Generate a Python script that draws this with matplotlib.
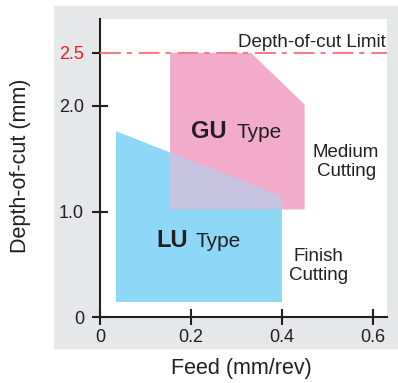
import numpy as np
import matplotlib
matplotlib.use("Agg")
import matplotlib.pyplot as plt
from matplotlib.patches import Polygon, Rectangle

plt.rcParams['font.family'] = ['Liberation Sans', 'DejaVu Sans']
plt.rcParams['lines.scale_dashes'] = False

# chart data
lu_feed = [0.035, 0.035, 0.40, 0.40]
lu_doc = [0.145, 1.76, 1.14, 0.145]
gu_feed = [0.154, 0.154, 0.332, 0.45, 0.45]
gu_doc = [1.02, 2.5, 2.5, 2.01, 1.02]
doc_limit = 2.5
xticks = [0, 0.2, 0.4, 0.6]
xticklabels = ["0", "0.2", "0.4", "0.6"]
yticks = [0, 1.0, 2.0, 2.5]
yticklabels = ["0", "1.0", "2.0", "2.5"]

dark = '#231f20'
red = '#ed1c24'
blue = '#8ed8f7'
pink = '#f3abcb'
mix = '#c6c3e1'

W, H = 398, 383
fig = plt.figure(figsize=(W / 100, H / 100), dpi=100)
# grey panel behind the plot
fig.patches.append(Rectangle((54 / W, (H - 348) / H), (W - 54) / W, (348 - 6) / H,
                             transform=fig.transFigure, color='#e6e7e8', zorder=-1))
ax = fig.add_axes([100 / W, (H - 317.3) / H, 287 / W, 298.3 / H])
ax.set_facecolor('white')
ax.set_xlim(0, 0.631)
ax.set_ylim(0, 2.82)

ax.add_patch(Polygon(np.column_stack([gu_feed, gu_doc]), closed=True, color=pink, lw=0, zorder=1))
ax.add_patch(Polygon(np.column_stack([lu_feed, lu_doc]), closed=True, color=blue, lw=0, zorder=1))
# overlap of the two regions
x0, x1 = gu_feed[0], lu_feed[2]
top0 = np.interp(x0, lu_feed[1:3], lu_doc[1:3])
ov = [(x0, gu_doc[0]), (x0, top0), (x1, lu_doc[2]), (x1, gu_doc[-1])]
ax.add_patch(Polygon(ov, closed=True, color=mix, lw=0, zorder=2))

ax.axhline(doc_limit, color='#f47c85', lw=1.5, dashes=(15, 4.3, 3.6, 5), zorder=3)

ax.text(0.629, 2.555, "Depth-of-cut Limit", ha='right', va='baseline', fontsize=13.5, color=dark)
ax.text(0.2, 1.695, "GU", fontsize=17, fontweight='bold', color=dark, va='baseline')
ax.text(0.301, 1.695, "Type", fontsize=15, color=dark, va='baseline')
ax.text(0.123, 0.664, "LU", fontsize=17, fontweight='bold', color=dark, va='baseline')
ax.text(0.209, 0.664, "Type", fontsize=15, color=dark, va='baseline')
ax.text(0.541, 1.47, "Medium\nCutting", ha='center', va='center', fontsize=13.5, color=dark)
ax.text(0.481, 0.485, "Finish\nCutting", ha='center', va='center', fontsize=13.5, color=dark)

for s in ['top', 'right']:
    ax.spines[s].set_visible(False)
for s in ['left', 'bottom']:
    ax.spines[s].set_linewidth(1.5)
    ax.spines[s].set_color(dark)

ax.set_xticks(xticks)
ax.set_xticklabels(xticklabels)
ax.set_yticks(yticks)
ax.set_yticklabels(yticklabels)
ax.tick_params(direction='inout', length=11, width=1.5, color=dark, labelcolor=dark, labelsize=13)
ax.tick_params(axis='x', pad=2.8)
ax.tick_params(axis='y', pad=6)
ax.get_yticklabels()[3].set_color(red)
ax.yaxis.get_major_ticks()[3].tick1line.set_color(red)

ax.set_xlabel("Feed (mm/rev)", fontsize=15.5, color=dark)
ax.set_ylabel("Depth-of-cut (mm)", fontsize=15.5, color=dark)
ax.xaxis.set_label_coords(0.491, -0.135)
ax.yaxis.set_label_coords(-0.24, 0.507)

plt.savefig('out.png', dpi=100)
